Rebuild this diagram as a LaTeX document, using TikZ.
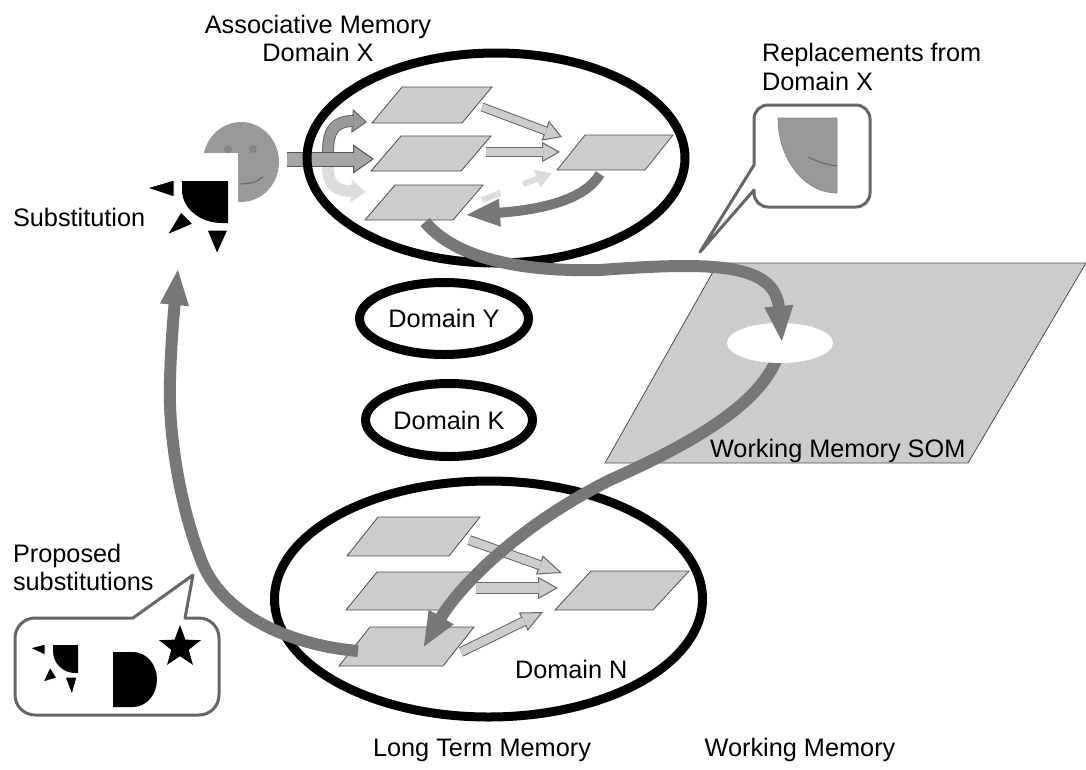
\documentclass[tikz,border=0pt]{standalone}
\usepackage{fontspec}
\setmainfont{Liberation Sans}
\usetikzlibrary{arrows.meta,calc,shapes.geometric}
\definecolor{cPara}{HTML}{CCCCCC}
\definecolor{cParaD}{HTML}{4D4D4D}
\definecolor{cArrF}{HTML}{CCCCCC}
\definecolor{cArrD}{HTML}{666666}
\definecolor{cFaceArrF}{HTML}{A6A6A6}
\definecolor{cFaceArrD}{HTML}{555555}
\definecolor{cUpF}{HTML}{999999}
\definecolor{cUpD}{HTML}{666666}
\definecolor{cFadeF}{HTML}{DDDDDD}
\definecolor{cFadeD}{HTML}{E2E2E2}
\definecolor{cThick}{HTML}{777777}
\definecolor{cFace}{HTML}{999999}
\definecolor{cEye}{HTML}{858585}
\definecolor{cCall}{HTML}{666666}
% from, to, shaft, head width, head length, fill, border
\newcommand\blockarrow[7]{%
  \draw[line width=1pt, draw=#7, -{Triangle[length=#5pt,width=#4pt,fill=#6,line width=1pt]}] ($(#2)!#5pt!(#1)$) -- (#2);
  \draw[line width=1pt, draw=#7, double=#6, double distance=#3pt, shorten >=#5pt-1.2pt] (#1) -- (#2);
}
\tikzset{
  lbl/.style={inner sep=0pt, outer sep=0pt, text=black},
  domainell/.style={ellipse, draw=black, line width=9pt, inner sep=0pt},
  parabox/.style={fill=cPara, draw=cParaD, line width=0.8pt, line join=miter},
  bigarrow/.style={draw=cThick, line width=12pt, -{Triangle[length=37pt,width=26pt]}},
  callout/.style={draw=cCall, line width=3pt, fill=white, line join=round},
  blackbit/.style={fill=black, draw=white, line width=1pt},
  pics/para/.style n args={3}{code={\draw[parabox] (0,0) -- ++(#3,-#2) -- ++(#1,0) -- ++(-#3,#2) -- cycle;}}
}
\begin{document}
\begin{tikzpicture}[x=1pt,y=-1pt,font=\fontsize{25.3pt}{28.5pt}\selectfont]
\useasboundingbox (0,0) rectangle (1086,769);

% ---------- Working memory SOM
\draw[fill=cPara, draw=cParaD, line width=0.8pt] (718,263) -- (1086,263) -- (968,463) -- (605,463) -- cycle;

% ---------- Replacements callout
\draw[callout] (754,165) -- (754,119) arc[start angle=180,end angle=270,radius=14] -- (856,105) arc[start angle=270,end angle=360,radius=14] -- (870,193) arc[start angle=0,end angle=90,radius=14] -- (768,207) arc[start angle=90,end angle=180,radius=14] -- (754,190) -- (700,252) -- cycle;
\filldraw[fill=cFace, draw=cEye, line width=0.6pt] (837,118) -- (778,118) arc[start angle=180,end angle=90,x radius=59,y radius=75] -- cycle;
\draw[draw=cArrD, line width=1pt] (808,157) .. controls (820,163) and (830,165) .. (837,166);

% ---------- Proposed substitutions callout
\draw[callout] (185,618) -- (199,618) arc[start angle=270,end angle=360,radius=20] -- (219,695) arc[start angle=0,end angle=90,radius=20] -- (35,715) arc[start angle=90,end angle=180,radius=20] -- (15,638) arc[start angle=180,end angle=270,radius=20] -- (133,618) -- (193,575) -- cycle;
\fill[black] (78,645) -- (53,645) -- (53,651) arc[start angle=180,end angle=90,x radius=22,y radius=22] -- (78,673) -- cycle;
\filldraw[blackbit] (30,648) -- (45,644) -- (45,655) -- cycle;
\filldraw[blackbit] (43,682) -- (50,667) -- (57,678) -- cycle;
\filldraw[blackbit] (65,677) -- (77,677) -- (72,695) -- cycle;
\fill[black] (113,652) -- (133,652) arc[start angle=270,end angle=450,x radius=24,y radius=27.5] -- (113,707) -- cycle;
\node[star, star points=5, star point ratio=2.4, fill=black, minimum size=44pt, inner sep=0pt] (starsym) at (180,647) {};

% ---------- Face and substitution piece
\begin{scope}
  \clip (190,100) -- (300,100) -- (300,215) -- (238,215) -- (238,153) -- (190,153) -- cycle;
  \fill[cFace] (241,162) ellipse [x radius=38, y radius=40];
\end{scope}
\fill[cEye] (228,149) circle[radius=4];
\fill[cEye] (253,149) circle[radius=4];
\draw[draw=cArrD, line width=1pt] (240,184) .. controls (250,184) and (257,182) .. (263,177);
\fill[black] (228,181) -- (182,181) -- (182,190) arc[start angle=180,end angle=90,x radius=40,y radius=33] -- (228,223) -- cycle;
\filldraw[blackbit] (147,188) -- (174,180) -- (174,197) -- cycle;
\filldraw[blackbit] (167,235) -- (181,212) -- (193,224) -- cycle;
\filldraw[blackbit] (207,230) -- (228,230) -- (217,254) -- cycle;

% ---------- curved arrows next to the face
\coordinate (u0) at (328,152);
\coordinate (u1) at (352,121);
\coordinate (u2) at (367,122);
\draw[line width=1pt, draw=cUpD, -{Triangle[length=15pt,width=24pt,fill=cUpF,line width=1pt]}] (u1) -- (u2);
\draw[line width=1pt, draw=cUpD, double=cUpF, double distance=10pt] (u0) .. controls (328,130) and (335,121) .. (353.5,121);
\coordinate (d0) at (328,166);
\coordinate (d1) at (351,191);
\coordinate (d2) at (366,192);
\draw[line width=1pt, draw=cFadeD, -{Triangle[length=15pt,width=23pt,fill=cFadeF,line width=1pt]}] (d1) -- (d2);
\draw[line width=1pt, draw=cFadeD, double=cFadeF, double distance=10pt] (d0) .. controls (328,185) and (335,191) .. (352.5,191);
\coordinate (f0) at (287,159);
\coordinate (f1) at (374,159);
\blockarrow{f0}{f1}{13}{29}{21}{cFaceArrF}{cFaceArrD}

% ---------- domain ellipses
\node[domainell, minimum width=378pt, minimum height=210pt] (eX) at (496,158) {};
\node[domainell, minimum width=169pt, minimum height=72pt] (eY) at (444,318.5) {Domain Y};
\node[domainell, minimum width=167pt, minimum height=73pt] (eK) at (449,420) {Domain K};
\node[domainell, minimum width=428pt, minimum height=236pt] (eN) at (488.5,599) {};

% ---------- parallelograms
\pic (p1) at (372,123) {para={90}{36}{30}};
\pic (p2) at (371,171) {para={90}{35}{30}};
\pic (p3) at (365,220) {para={88}{35}{30}};
\pic (p4) at (557,170) {para={88}{35}{28}};
\pic (q1) at (347,556) {para={102}{39}{31}};
\pic (q2) at (346,610) {para={101}{38}{31}};
\pic (q3) at (339,666) {para={104}{39}{31}};
\pic (q4) at (555,610) {para={98}{39}{36}};

% ---------- block arrows inside domains
\coordinate (a1s) at (482,107); \coordinate (a1e) at (562,137);
\coordinate (a2s) at (486,152); \coordinate (a2e) at (560,152);
\blockarrow{a1s}{a1e}{7}{21}{18}{cArrF}{cArrD}
\blockarrow{a2s}{a2e}{8}{20}{18}{cArrF}{cArrD}
\coordinate (b1s) at (469,540); \coordinate (b1e) at (562,573);
\coordinate (b2s) at (476,588); \coordinate (b2e) at (558,588);
\coordinate (b3s) at (461,652); \coordinate (b3e) at (543,612);
\blockarrow{b1s}{b1e}{8}{20}{24}{cArrF}{cArrD}
\blockarrow{b2s}{b2e}{10}{22}{20}{cArrF}{cArrD}
\blockarrow{b3s}{b3e}{8}{20}{22}{cArrF}{cArrD}

% faded dashed arrow
\coordinate (fd0) at (482,200); \coordinate (fd1) at (552,173);
\draw[draw=cFadeF, line width=6pt, dash pattern=on 20pt off 24pt on 40pt off 0pt, -{Triangle[length=16pt,width=18pt]}] (fd0) -- (fd1);

% dark curved arrow P4 -> P3
\coordinate (k0) at (600,174); \coordinate (k1) at (465,215);
\draw[draw=cThick, line width=10pt, -{Triangle[length=35pt,width=25pt]}] (k0) .. controls (585,200) and (540,210) .. (k1);

% ---------- big gray arrows
\coordinate (bb0) at (779,352); \coordinate (bb1) at (423,648);
\draw[bigarrow, -{Triangle[length=36pt,width=26pt]}] (bb0) .. controls (765,400) and (700,440) .. (610,480) .. controls (520,525) and (460,585) .. (bb1);
\node[ellipse, fill=white, minimum width=106pt, minimum height=40pt, inner sep=0pt] (hot) at (780,343) {};
\coordinate (aa0) at (425,222); \coordinate (aa1) at (782,343);
\draw[bigarrow] (aa0) .. controls (455,258) and (520,272) .. (600,270) .. controls (710,262) and (775,262) .. (aa1);
\coordinate (cc0) at (358,651); \coordinate (cc1) at (178,268);
\draw[bigarrow] (cc0) .. controls (290,645) and (220,615) .. (200,557) .. controls (182,510) and (168,440) .. (170,380) .. controls (171,340) and (175,300) .. (cc1);

% ---------- labels
\node[lbl, anchor=base] (tA1) at (318,33) {Associative Memory};
\node[lbl, anchor=base] (tA2) at (318,61) {Domain X};
\node[lbl, anchor=base west] (tR1) at (762,61) {Replacements from};
\node[lbl, anchor=base west] (tR2) at (762,90) {Domain X};
\node[lbl, anchor=base west] (tS) at (13,226) {Substitution};
\node[lbl, anchor=base west] (tSOM) at (710,457) {Working Memory SOM};
\node[lbl, anchor=base west] (tP1) at (13,562) {Proposed};
\node[lbl, anchor=base west] (tP2) at (13,590) {substitutions};
\node[lbl, anchor=base west] (tN) at (515,678) {Domain N};
\node[lbl, anchor=base] (tLTM) at (482,756) {Long Term Memory};
\node[lbl, anchor=base] (tWM) at (800,756) {Working Memory};
\end{tikzpicture}
\end{document}
